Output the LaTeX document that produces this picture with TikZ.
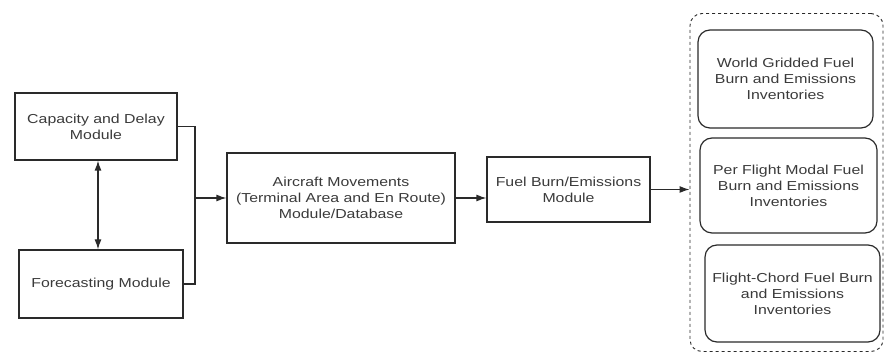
\documentclass[tikz,border=0pt]{standalone}
\usepackage{fontspec}
\setmainfont{Liberation Sans}[FakeStretch=1.22]
\usetikzlibrary{arrows.meta,calc}
\definecolor{ink}{HTML}{2A2A2A}
\definecolor{txt}{HTML}{3A3A3A}
\begin{document}
\begin{tikzpicture}[x=1pt,y=1pt,
  every node/.style={font=\fontsize{13}{16}\selectfont, text=txt, align=center},
  box/.style={draw=ink, line width=1.2pt, inner sep=0pt},
  rbox/.style={box, rounded corners=12pt},
  conn/.style={draw=ink, line width=1.2pt},
  arr/.style={conn, -{Latex[length=10pt,width=7pt]}}]
\useasboundingbox (0,0) rectangle (885,353);
\node[box, minimum width=162, minimum height=67] (cap) at (96,226.5) {Capacity and Delay\\Module};
\node[box, minimum width=164, minimum height=68] (fore) at (101,69) {Forecasting Module};
\node[box, minimum width=228, minimum height=90] (air) at (341,155) {Aircraft Movements\\(Terminal Area and En Route)\\Module/Database};
\node[box, minimum width=163, minimum height=65] (fuel) at (568.5,163.5) {Fuel Burn/Emissions\\Module};
\node[draw=ink, line width=0.9pt, dashed, rounded corners=12pt, minimum width=193, minimum height=338, inner sep=0pt] (out) at (786.5,170.5) {};
\node[rbox, minimum width=175, minimum height=98] (w1) at (785.5,274) {World Gridded Fuel\\Burn and Emissions\\Inventories};
\node[rbox, minimum width=177, minimum height=95] (w2) at (788.5,167.5) {Per Flight Modal Fuel\\Burn and Emissions\\Inventories};
\node[rbox, minimum width=175, minimum height=97] (w3) at (792.5,59.5) {Flight-Chord Fuel Burn\\and Emissions\\Inventories};
\coordinate (jx) at (195,0);
\coordinate (dx) at (98,0);
\coordinate (j) at (jx |- air.west);
\draw[conn] (cap.east) -| (j);
\draw[conn] (fore.east) -| (j);
\draw[arr] (j) -- (air.west);
\draw[conn, {Latex[length=10pt,width=7pt]}-{Latex[length=10pt,width=7pt]}] (cap.south -| dx) -- (fore.north -| dx);
\draw[arr] (air.east) -- (air.east -| fuel.west);
\draw[arr] (fuel.east) -- (fuel.east -| out.west);
\end{tikzpicture}
\end{document}
